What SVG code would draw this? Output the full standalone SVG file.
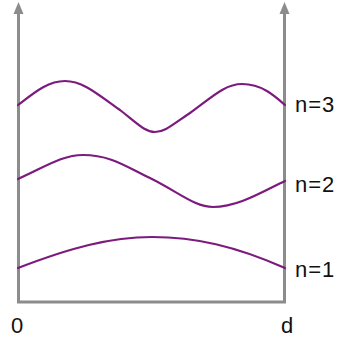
<svg xmlns="http://www.w3.org/2000/svg" width="338" height="339" viewBox="0 0 338 339">
<style>
.axis{fill:none;stroke:#8c8c8c;stroke-width:3}
.wave{fill:none;stroke:#7d1a7e;stroke-width:2.2;stroke-linecap:round;stroke-linejoin:round}
.lbl{font-family:"Liberation Sans",Arial,sans-serif;font-size:22px;fill:#111}
</style>
<rect width="338" height="339" fill="#fff"/>
<g id="connectors">
<path class="axis" d="M18.5,12 V302 H284.5 V12"/>
<path d="M13.5,14 L18.5,2 L23.5,14 Z" fill="#8c8c8c"/>
<path d="M279.5,14 L284.5,2 L289.5,14 Z" fill="#8c8c8c"/>
</g>
<g id="n3">
<path class="wave" d="M18,105 C35,92 48,81 65,81 C82,81 95,92 120,110 C138,124 145,132 155,132 C165,132 172,125 190,113 C212,97 225,84 242,84 C262,84 275,96 285,105"/>
<text class="lbl" x="295" y="112" letter-spacing="1">n=3</text>
</g>
<g id="n2">
<path class="wave" d="M18,179 C45,167 62,155 83,155 C110,155 125,166 150,178 C180,193 195,207 213,207 C238,207 262,192 285,181"/>
<text class="lbl" x="295" y="192" letter-spacing="1">n=2</text>
</g>
<g id="n1">
<path class="wave" d="M18,268 C70,248 110,237 152,237 C195,237 235,246 285,268"/>
<text class="lbl" x="295" y="277" letter-spacing="1">n=1</text>
</g>
<g id="labels">
<text class="lbl" x="11" y="333">0</text>
<text class="lbl" x="281" y="333">d</text>
</g>
</svg>
